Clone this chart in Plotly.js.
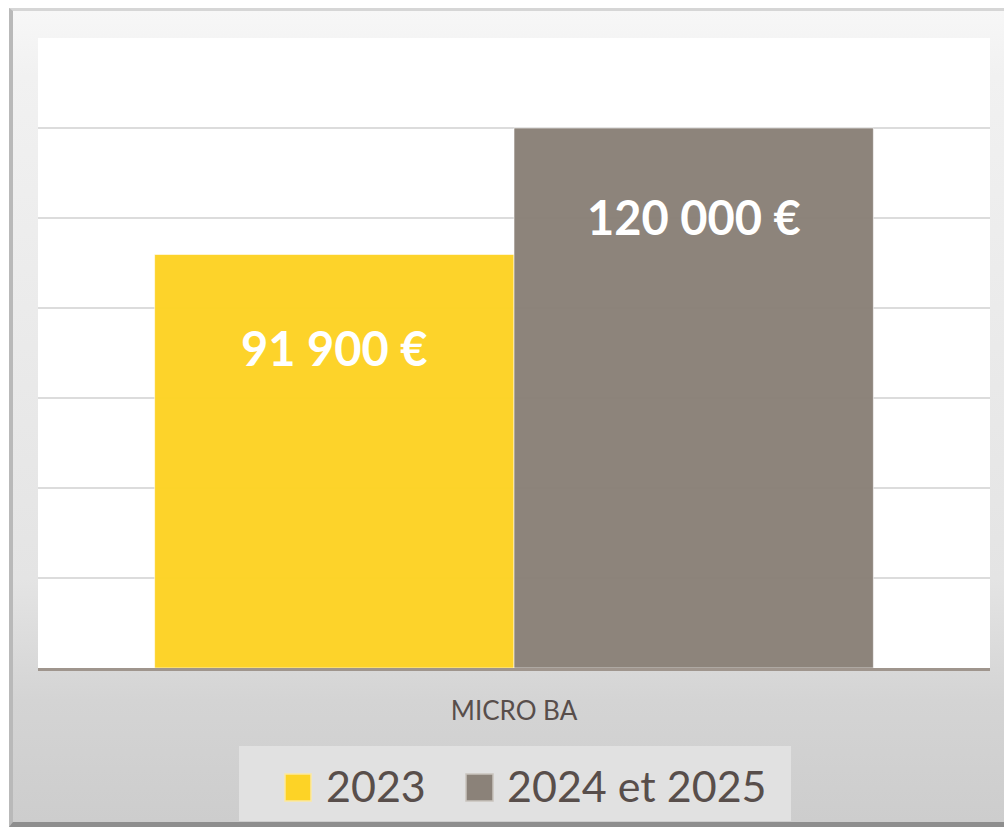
<!DOCTYPE html>
<html>
<head>
<meta charset="utf-8">
<script src="https://cdn.plot.ly/plotly-3.0.1.min.js"></script>
<style>
  html, body { margin: 0; padding: 0; width: 1004px; height: 832px; overflow: hidden; background: #ffffff; }
  #frame {
    position: absolute; left: 9px; top: 8px; width: 1010px; height: 819px;
    border-left: 4px solid #b9b9b9; border-top: 3px solid #d6d6d6; border-bottom: 5px solid #8e8e8e;
    background: linear-gradient(to bottom, #f7f7f7 0%, #f1f1f1 8%, #e4e4e4 70%, #d4d4d4 85%, #cdcdcd 100%);
    box-sizing: border-box;
  }
  #chart { position: absolute; left: 0; top: 0; width: 1004px; height: 832px; }
</style>
</head>
<body>
<div id="frame"></div>
<div id="chart"></div>
<script>
// ---- data ----
const categories = ['MICRO BA'];
const seriesNames = ['2023', '2024 et 2025'];
const values2023 = [91900];
const values2024_2025 = [120000];
const seriesColors = ['#FDD326', '#8B8279'];

// ---- layout helpers ----
const W = 1004, H = 832;
const M = {l: 38, r: 14, t: 38, b: 164};
const plotW = W - M.l - M.r, plotH = H - M.t - M.b;
const px2x = px => (px - M.l) / plotW;
const py2y = py => (H - M.b - py) / plotH;
const bargap = 0.245;
const fmt = v => String(v).replace(/\B(?=(\d{3})+(?!\d))/g, '\u00a0') + '\u00a0€';

const seriesValues = [values2023, values2024_2025];
const traces = seriesNames.map((name, i) => ({
  type: 'bar',
  name: name,
  x: categories,
  y: seriesValues[i],
  marker: {color: seriesColors[i], opacity: 0.98, line: {color: 'rgba(255,255,255,0.6)', width: 1}},
  hoverinfo: 'none',
  showlegend: false
}));

// data labels, centered on each bar
const barW = (1 - bargap) / seriesNames.length;
const labelShift = [-94, -89];
const annotations = [];
seriesNames.forEach((name, i) => {
  seriesValues[i].forEach((v, j) => {
    annotations.push({
      x: j - (1 - bargap) / 2 + barW * (i + 0.5),
      y: v, xref: 'x', yref: 'y',
      text: '<b>' + fmt(v) + '</b>',
      showarrow: false, yanchor: 'middle', yshift: labelShift[i],
      font: {family: 'Lato, "Open Sans", sans-serif', size: 47, color: '#ffffff'}
    });
  });
});

// custom legend
const legendItems = [
  {sq: [285, 311], tx: 324},
  {sq: [466, 493], tx: 505}
];
const shapes = [{
  type: 'rect', xref: 'paper', yref: 'paper', layer: 'below',
  x0: px2x(239), x1: px2x(791), y0: py2y(821), y1: py2y(746),
  fillcolor: '#e1e1e1', line: {width: 0}
}];
seriesNames.forEach((name, i) => {
  const it = legendItems[i];
  shapes.push({
    type: 'rect', xref: 'paper', yref: 'paper',
    x0: px2x(it.sq[0]), x1: px2x(it.sq[1]), y0: py2y(801), y1: py2y(774),
    fillcolor: seriesColors[i], line: {color: i === 0 ? '#fbe9a0' : '#c9c3bd', width: 1.5}
  });
  annotations.push({
    x: px2x(it.tx), y: py2y(785), xref: 'paper', yref: 'paper',
    xanchor: 'left', yanchor: 'middle', showarrow: false,
    text: name,
    font: {family: 'Lato, "Open Sans", sans-serif', size: 43, color: '#584e4b'}
  });
});

const layout = {
  width: W, height: H,
  margin: M,
  paper_bgcolor: 'rgba(0,0,0,0)',
  plot_bgcolor: '#ffffff',
  barmode: 'group',
  bargap: bargap,
  bargroupgap: 0,
  showlegend: false,
  xaxis: {
    type: 'category',
    showline: true, linecolor: '#9f958d', linewidth: 3,
    ticks: '', showgrid: false,
    tickfont: {family: 'Lato, "Open Sans", sans-serif', size: 26, color: '#584e4b'},
    ticklabelstandoff: 18
  },
  yaxis: {
    range: [0, 140000], dtick: 20000, tick0: 0,
    showticklabels: false, ticks: '',
    showgrid: true, gridcolor: '#dcdcdc', gridwidth: 1.3,
    zeroline: false, fixedrange: true
  },
  shapes: shapes,
  annotations: annotations
};

Plotly.newPlot('chart', traces, layout, {displayModeBar: false, staticPlot: true});
</script>
</body>
</html>
